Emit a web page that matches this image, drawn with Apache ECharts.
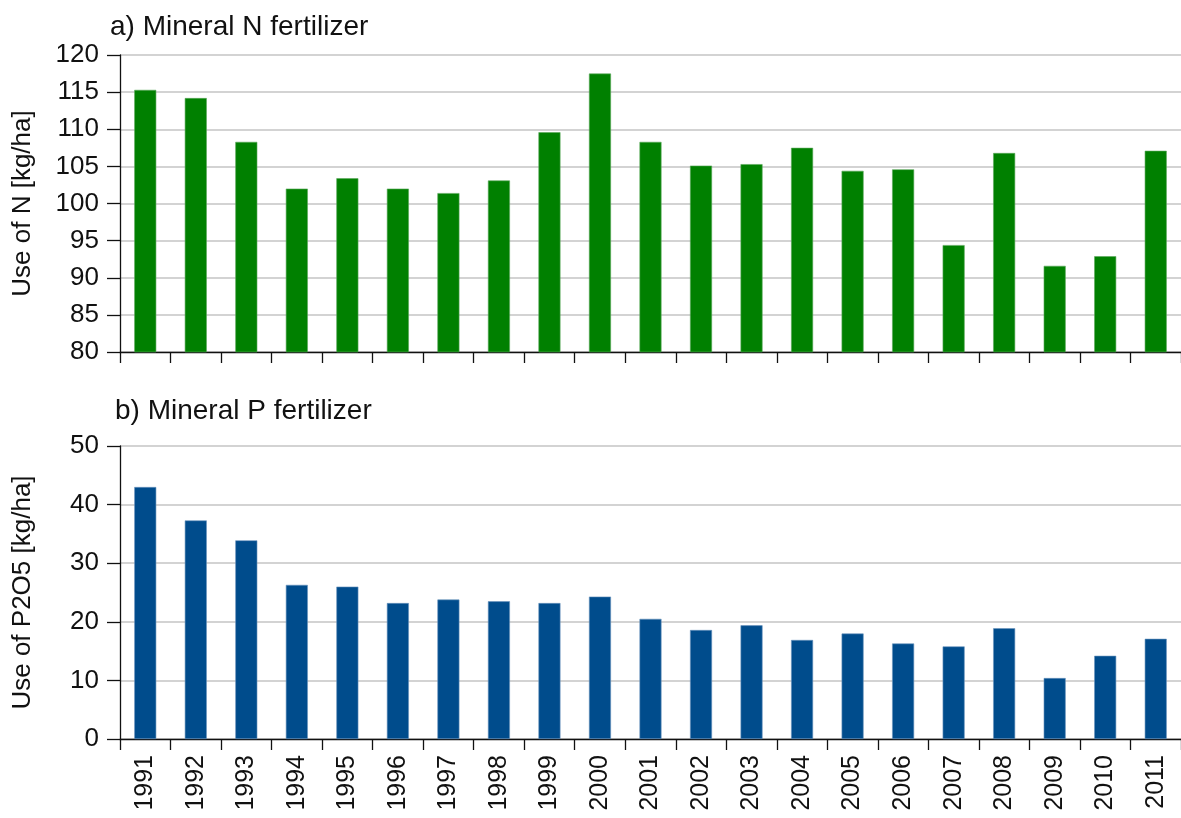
<!DOCTYPE html>
<html>
<head>
<meta charset="utf-8">
<script src="https://cdn.jsdelivr.net/npm/echarts@6/dist/echarts.min.js"></script>
<style>
  html, body { margin: 0; padding: 0; background: #fff; }
  #chart { width: 1181px; height: 818px; }
</style>
</head>
<body>
<div id="chart"></div>
<script>
// years on the shared x axis
var years = ['1991', '1992', '1993', '1994', '1995', '1996', '1997', '1998', '1999', '2000',
    '2001', '2002', '2003', '2004', '2005', '2006', '2007', '2008', '2009', '2010', '2011'];
// a) mineral N, kg/ha
var nUse = [115.3, 114.2, 108.3, 102.0, 103.4, 102.0, 101.4, 103.1, 109.6, 117.5,
    108.3, 105.1, 105.3, 107.5, 104.4, 104.6, 94.4, 106.8, 91.6, 92.9, 107.1];
// b) mineral P (as P2O5), kg/ha
var pUse = [43.0, 37.3, 33.9, 26.3, 26.0, 23.2, 23.8, 23.5, 23.2, 24.3,
    20.5, 18.6, 19.4, 16.9, 18.0, 16.3, 15.8, 18.9, 10.4, 14.2, 17.1];

var font = 'Liberation Sans, Arial, sans-serif';
var txt = '#111';

var chart = echarts.init(document.getElementById('chart'));

function yAxis(min, max, step, name) {
    return {
        type: 'value',
        min: min,
        max: max,
        interval: step,
        name: name,
        nameLocation: 'middle',
        nameRotate: 90,
        nameGap: 84,
        nameTextStyle: { fontFamily: font, fontSize: 26, color: txt },
        axisLine: { show: true, lineStyle: { color: '#111', width: 1.3 } },
        axisTick: { show: true, length: 13, lineStyle: { color: '#111', width: 1.3 } },
        axisLabel: { margin: 21, fontFamily: font, fontSize: 26, color: txt },
        splitLine: { lineStyle: { color: '#c4c4c4', width: 1.5 } }
    };
}

function xAxis(idx, showLabels) {
    return {
        type: 'category',
        gridIndex: idx,
        data: years,
        axisLine: { lineStyle: { color: '#111', width: 1.3 } },
        axisTick: { show: true, length: 11, lineStyle: { color: '#111', width: 1.3 } },
        axisLabel: {
            show: showLabels,
            rotate: 90,
            interval: 0,
            margin: 16,
            fontFamily: font,
            fontSize: 25,
            color: txt
        }
    };
}

var option = {
    animation: false,
    backgroundColor: '#fff',
    title: [
        { text: 'a) Mineral N fertilizer', left: 105, top: 8,
          textStyle: { fontFamily: font, fontSize: 28, fontWeight: 'normal', color: txt } },
        { text: 'b) Mineral P fertilizer', left: 110, top: 392,
          textStyle: { fontFamily: font, fontSize: 28, fontWeight: 'normal', color: txt } }
    ],
    grid: [
        { left: 120, right: 0, top: 55, bottom: 466 },
        { left: 120, right: 0, top: 446, bottom: 79 }
    ],
    xAxis: [xAxis(0, false), xAxis(1, true)],
    yAxis: [
        Object.assign(yAxis(80, 120, 5, 'Use of N [kg/ha]'), { gridIndex: 0 }),
        Object.assign(yAxis(0, 50, 10, 'Use of P2O5 [kg/ha]'), { gridIndex: 1 })
    ],
    series: [
        {
            name: 'N',
            type: 'bar',
            xAxisIndex: 0,
            yAxisIndex: 0,
            barWidth: 22,
            data: nUse,
            itemStyle: { color: '#008000', borderColor: '#5aa85a', borderWidth: 0.6 }
        },
        {
            name: 'P2O5',
            type: 'bar',
            xAxisIndex: 1,
            yAxisIndex: 1,
            barWidth: 22,
            data: pUse,
            itemStyle: { color: '#004c8c', borderColor: '#6a93bd', borderWidth: 0.6 }
        }
    ]
};

chart.setOption(option);
</script>
</body>
</html>
